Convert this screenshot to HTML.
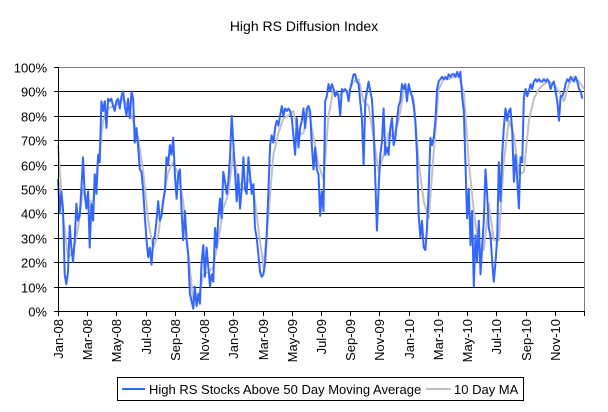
<!DOCTYPE html>
<html><head><meta charset="utf-8"><style>
body{margin:0;background:#fff;}
svg text{font-family:"Liberation Sans",Arial,sans-serif;}
</style></head><body>
<svg id="chart" width="608" height="407" xmlns="http://www.w3.org/2000/svg">
<rect x="0" y="0" width="608" height="407" fill="#fff"/>
<text x="304" y="31" text-anchor="middle" font-size="14">High RS Diffusion Index</text>
<g id="grid"></g><g id="series"></g><g id="axes"></g>
<g>
<rect x="117.5" y="377.5" width="406" height="23" fill="#fff" stroke="#000" stroke-width="1"/>
<line x1="122" y1="389" x2="145" y2="389" stroke="#3366FF" stroke-width="2"/>
<text x="149" y="394" font-size="13">High RS Stocks Above 50 Day Moving Average</text>
<line x1="426" y1="389" x2="451" y2="389" stroke="#C0C0C0" stroke-width="2"/>
<text x="454" y="394" font-size="13">10 Day MA</text>
</g>
</svg>
<script>
const tickLabels=["Jan-08","Mar-08","May-08","Jul-08","Sep-08","Nov-08","Jan-09","Mar-09","May-09","Jul-09","Sep-09","Nov-09","Jan-10","Mar-10","May-10","Jul-10","Sep-10","Nov-10"];
const yTicks=[0,10,20,30,40,50,60,70,80,90,100];
const stocks=[54,40,49,42,15,11,16,35,26,20,29,44,37,39,50,63,48,42,49,26,44,37,56,48,64,61,86,82,86,75,87,86,87,84,82,86,87,83,88,90,84,80,87,79,90,87,69,75,67,58,57,49,39,29,22,26,19,29,31,37,45,37,39,45,49,63,60,68,64,71,56,46,56,58,41,29,41,29,23,
7,4,1,10,2,7,3,20,27,14,26,18,10,15,12,34,26,38,46,38,57,53,48,53,63,80,69,57,45,56,42,50,63,50,48,63,56,48,52,34,30,23,16,14,15,20,31,49,68,72,69,75,78,76,80,84,80,83,82,83,82,79,72,64,79,67,75,78,83,75,83,84,82,68,58,67,58,56,39,49,
41,86,88,93,90,93,91,88,90,88,80,91,90,91,90,86,91,94,97,97,94,93,86,79,60,86,90,94,90,87,75,54,33,50,64,69,83,64,67,64,75,79,68,71,78,84,86,93,91,93,86,93,90,88,84,78,64,39,30,37,26,25,34,50,71,68,71,78,91,94,95,96,95,96,95,97,96,97,97,
96,98,96,98,88,82,61,38,50,27,41,10,31,20,37,15,26,37,58,48,34,31,20,12,20,30,61,45,64,75,83,78,82,83,74,53,64,54,42,63,61,88,91,88,90,93,91,94,95,94,95,94,94,95,94,95,94,91,93,94,90,86,78,88,88,90,93,95,94,96,95,94,96,94,91,90,87];
const ma=[68,39,22,24,34,50,45,45,61,78,83,84,85,87,84,78,71,57,37,26,31,46,57,61,56,45,24,
4,5,15,16,18,29,42,48,65,53,50,54,50,34,18,39,64,73,79,80,82,72,73,83,71,60,
54,80,91,88,90,90,94,95,86,84,71,57,64,73,71,78,90,91,87,61,45,38,65,91,95,95,96,
96,90,61,41,26,25,44,29,29,61,78,72,56,57,78,87,91,93,94,93,90,86,93,96,94,91];
const maStep=3;
const X0=58,X1=584,Y0=311,Y1=67,N=315;
const xs=i=>X0+i*(X1-X0)/N;
const ys=v=>Y0-v*(Y0-Y1)/100;
const NS="http://www.w3.org/2000/svg";
function mk(tag,attrs,parent){const e=document.createElementNS(NS,tag);for(const k in attrs)e.setAttribute(k,attrs[k]);parent.appendChild(e);return e;}
const grid=document.getElementById('grid'),axes=document.getElementById('axes'),series=document.getElementById('series');
yTicks.forEach(t=>{
  const y=Math.round(ys(t))+0.5;
  if(t>0&&t<100){const l=mk('line',{x1:X0,x2:X1,y1:y,y2:y,stroke:'#000','stroke-width':1},grid);
  
  }
  const tk=mk('line',{x1:X0-4,x2:X0,y1:y,y2:y,stroke:'#000'},axes);
  
  
  const tx=mk('text',{x:47,y:y+5,'text-anchor':'end','font-size':13},axes);
  tx.textContent=t+'%';
  
  
});
const border=mk('polyline',{points:`${X0},${Y1+0.5} ${X1+0.5},${Y1+0.5} ${X1+0.5},${Y0}`,fill:'none',stroke:'#808080'},grid);


function path(vals,step){return vals.map((v,j)=>(j?'L':'M')+xs(j*step).toFixed(1)+','+ys(v).toFixed(1)).join(' ');}
const pm=mk('path',{d:path(ma,maStep),fill:'none',stroke:'#C0C0C0','stroke-width':2,'stroke-linejoin':'round'},series);


const ps=mk('path',{d:path(stocks,1),fill:'none',stroke:'#3366FF','stroke-width':2,'stroke-linejoin':'round'},series);


const ya=mk('line',{x1:X0+0.5,x2:X0+0.5,y1:Y1,y2:Y0+1,stroke:'#000'},axes);


const xa=mk('line',{x1:X0,x2:X1+1,y1:Y0+0.5,y2:Y0+0.5,stroke:'#000'},axes);


for(let k=0;k<=tickLabels.length;k++){
  const x=Math.round(X0+k*(X1-X0)/tickLabels.length)+0.5;
  const tk=mk('line',{x1:x,x2:x,y1:Y0,y2:Y0+5,stroke:'#000'},axes);
  
  
  if(k<tickLabels.length){
    const tx=mk('text',{x:0,y:0,'text-anchor':'end','font-size':13,transform:`translate(${x+4.5},319) rotate(-90)`},axes);
    tx.textContent=tickLabels[k];
    
    
  }
}
</script>
</body></html>
